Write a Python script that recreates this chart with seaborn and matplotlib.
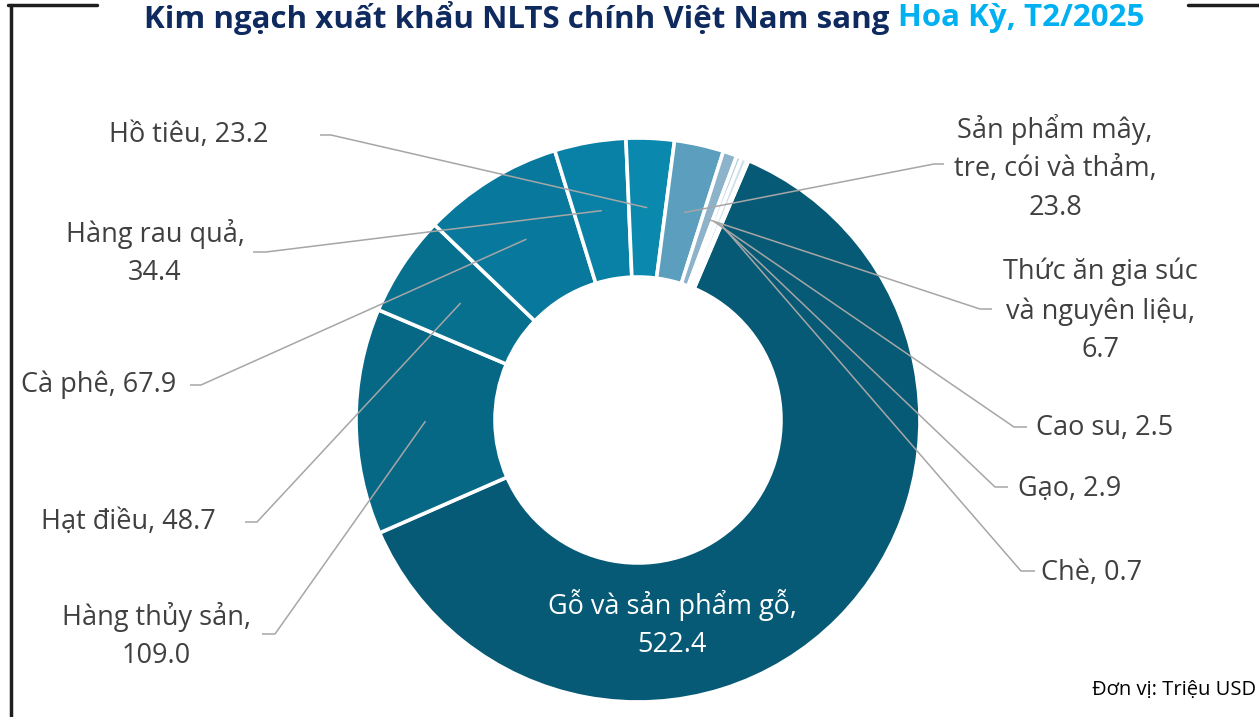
import numpy as np
import matplotlib
matplotlib.use("Agg")
import matplotlib.pyplot as plt
from matplotlib.lines import Line2D
import seaborn as sns

# Data (triệu USD), clockwise from the top-right
products = ["Gỗ và sản phẩm gỗ", "Hàng thủy sản", "Hạt điều", "Cà phê",
            "Hàng rau quả", "Hồ tiêu", "Sản phẩm mây, tre, cói và thảm",
            "Thức ăn gia súc và nguyên liệu", "Cao su", "Gạo", "Chè"]
values = [522.4, 109.0, 48.7, 67.9, 34.4, 23.2, 23.8, 6.7, 2.5, 2.9, 0.7]
label_texts = ["Gỗ và sản phẩm gỗ,\n522.4", "Hàng thủy sản,\n109.0", "Hạt điều, 48.7",
               "Cà phê, 67.9", "Hàng rau quả,\n34.4", "Hồ tiêu, 23.2",
               "Sản phẩm mây,\ntre, cói và thảm,\n23.8",
               "Thức ăn gia súc\nvà nguyên liệu,\n6.7",
               "Cao su, 2.5", "Gạo, 2.9", "Chè, 0.7"]
colors = ["#065A75", "#076886", "#07708F", "#08799C", "#0981A6", "#0B88AE",
          "#5C9EBE", "#8DB3CB", "#B9D1E0", "#CFE0EA", "#E3EDF3"]

sns.set_theme(style="white")
plt.rcParams["font.family"] = ["Open Sans", "DejaVu Sans"]

W, H = 1259, 717
CX, CY, R = 638, 420, 282


def P(px, py):
    # pixel position -> data units (pie radius = 1)
    return (px - CX) / R, (CY - py) / R


fig = plt.figure(figsize=(W / 100, H / 100), dpi=100)
ax = fig.add_axes([0, 0, 1, 1])

ring = 0.493
wedges, _ = ax.pie(values, colors=colors, startangle=66.9, counterclock=False,
                   radius=1, wedgeprops=dict(width=ring, edgecolor="white", linewidth=2.6))
ax.set_xlim(-CX / R, (W - CX) / R)
ax.set_ylim((CY - H) / R, CY / R)
ax.set_aspect("auto")
ax.axis("off")

# label text centre, leader start (near text) and elbow, all in pixels
label_pos = [(672, 624), (156, 636), (128, 522), (99, 385), (155, 253), (189, 135),
             (1055, 168), (1100, 311), (1105, 428), (1070, 489), (1092, 573)]
leader = [None, ((262, 634), (275, 634)), ((245, 522), (257, 522)),
          ((190, 385), (201, 385)), ((253, 252), (266, 252)), ((320, 135), (331, 135)),
          ((944, 164), (934, 164)), ((992, 309), (980, 309)), ((1027, 427), (1014, 427)),
          ((1008, 487), (995, 487)), ((1035, 571), (1021, 571))]

rmid = 1 - ring / 2
txt_color = "#404040"
fs = 19.5
for i, w in enumerate(wedges):
    th = np.deg2rad((w.theta1 + w.theta2) / 2)
    mx, my = rmid * np.cos(th), rmid * np.sin(th)
    lx, ly = P(*label_pos[i])
    if i == 0:
        ax.text(lx, ly, label_texts[i], ha="center", va="center", color="white",
                fontsize=fs, linespacing=1.5)
        continue
    ax.text(lx, ly, label_texts[i], ha="center", va="center", color=txt_color,
            fontsize=fs, linespacing=1.5)
    (a, b) = leader[i]
    xa, ya = P(*a)
    xb, yb = P(*b)
    ax.plot([xa, xb, mx], [ya, yb, my], color="#A6A6A6", lw=1.1, solid_capstyle="butt")

# title in two colours
t1 = fig.text(0, 1 - 18 / H, "Kim ngạch xuất khẩu NLTS chính Việt Nam sang ",
              fontsize=22.5, fontweight="bold", color="#0E2A5E", va="center", ha="left")
t2 = fig.text(0, 1 - 18 / H, "Hoa Kỳ, T2/2025",
              fontsize=22.5, fontweight="bold", color="#00B0F0", va="center", ha="left")
fig.canvas.draw()
r = fig.canvas.get_renderer()
w1 = t1.get_window_extent(r).width
w2 = t2.get_window_extent(r).width
x0 = 644 - (w1 + w2) / 2
t1.set_x(x0 / W)
t2.set_x((x0 + w1) / W)

fig.text(1256 / W, 1 - 690 / H, "Đơn vị: Triệu USD", fontsize=14.5, color="black",
         ha="right", va="center")

# frame pieces at the top and left edge
frame_kw = dict(color="#1E1E1E", lw=2.5, transform=fig.transFigure)
fig.add_artist(Line2D([8 / W, 97 / W], [1 - 5 / H, 1 - 5 / H], **frame_kw))
fig.add_artist(Line2D([1188 / W, 1], [1 - 5 / H, 1 - 5 / H], **frame_kw))
fig.add_artist(Line2D([11 / W, 11 / W], [1 - 5 / H, 0], **frame_kw))

fig.savefig("out.png", dpi=100)
